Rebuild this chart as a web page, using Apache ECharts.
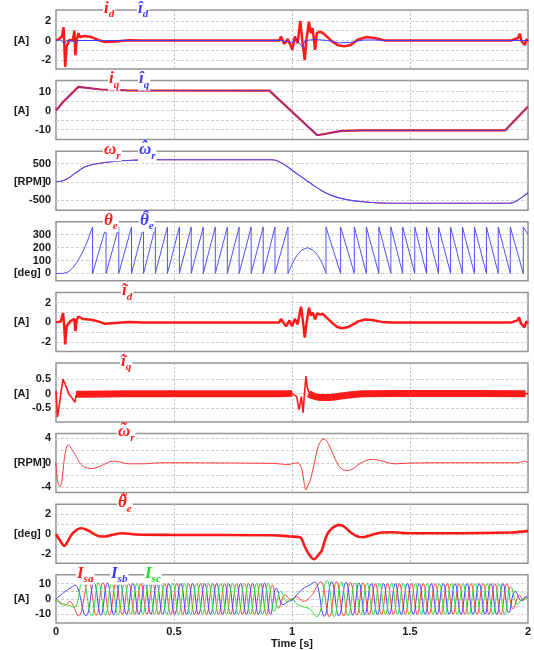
<!DOCTYPE html>
<html>
<head>
<meta charset="UTF-8">
<title>sensorless drive</title>
<script src="https://cdn.jsdelivr.net/npm/echarts@6.0.0/dist/echarts.min.js"></script>
<style>
  html, body { margin: 0; padding: 0; background: #fff; }
  #main { width: 534px; height: 650px; }
</style>
</head>
<body>
<div id="main"></div>
<script>
// ---- data: [time s, value] ----
var timeTicks = [0, 0.5, 1, 1.5, 2];

// i_d (actual, red) and estimated (blue)
var idAct = [[0,0],[0.013,0.15],[0.025,0.4],[0.032,1.35],[0.035,-0.3],[0.039,-2.7],[0.045,-0.6],[0.056,0.05],[0.071,0],[0.078,1.0],[0.082,-1.5],[0.088,0.05],[0.095,0.75],[0.101,0.35],[0.121,0.45],[0.15,0.35],[0.179,0.05],[0.208,-0.15],[0.252,-0.1],[0.309,0.03],[0.367,0],[0.946,0],[0.953,0.4],[0.967,-0.35],[0.982,0.15],[0.996,-0.6],[1.001,-0.95],[1.012,0.4],[1.024,-0.27],[1.035,2.0],[1.044,-0.1],[1.054,-2.0],[1.061,0.07],[1.072,1.9],[1.079,0.75],[1.087,1.25],[1.098,-0.95],[1.105,0.75],[1.119,0.9],[1.131,0.75],[1.148,0.4],[1.17,-0.1],[1.192,-0.45],[1.221,-0.6],[1.249,-0.45],[1.278,0.07],[1.315,0.35],[1.351,0.25],[1.394,0],[1.929,0],[1.958,0.25],[1.965,0.7],[1.973,-0.1],[1.987,-0.45],[1.994,0.15],[2.0,-0.1]];
var idEst = [[0,0],[0.02,0.05],[0.035,-0.35],[0.045,0],[0.075,-0.05],[0.082,-0.3],[0.09,0],[0.95,0],[1.0,-0.2],[1.02,0.1],[1.035,-0.4],[1.045,-0.7],[1.055,0],[1.06,-0.1],[1.1,0.1],[1.15,0],[1.2,-0.25],[1.25,-0.2],[1.3,0.05],[1.35,0.05],[1.4,0],[2.0,0]];

// i_q
var iqAct = [[0,0],[0.03,4.5],[0.095,12.5],[0.19,11.1],[0.3,10.7],[0.904,10.5],[1.107,-13],[1.21,-10.7],[1.3,-10.4],[1.904,-10.4],[2.0,2.1]];
var iqEst = [[0,0],[0.03,4.5],[0.095,12.5],[0.19,11.1],[0.3,10.7],[0.904,10.5],[1.107,-13],[1.21,-10.7],[1.3,-10.4],[1.904,-10.4],[2.0,2.1]];

// rotor speed [RPM]
var wrAct = [[0,0],[0.025,20],[0.05,91],[0.08,230],[0.121,409],[0.16,480],[0.193,518],[0.266,573],[0.339,595],[0.4,605],[0.915,605],[0.93,592],[0.95,535],[0.975,440],[1.0,320],[1.03,180],[1.063,30],[1.1,-140],[1.136,-280],[1.17,-380],[1.208,-455],[1.25,-510],[1.3,-550],[1.353,-575],[1.42,-590],[1.918,-590],[1.94,-562],[1.96,-490],[1.98,-400],[2.0,-300]];
var wrEst = [[0,0],[0.025,20],[0.05,91],[0.08,230],[0.121,409],[0.16,480],[0.193,518],[0.266,573],[0.339,595],[0.4,605],[0.915,605],[0.93,592],[0.95,535],[0.975,440],[1.0,320],[1.03,180],[1.063,30],[1.1,-140],[1.136,-280],[1.17,-380],[1.208,-455],[1.25,-510],[1.3,-550],[1.353,-575],[1.42,-590],[1.918,-590],[1.94,-562],[1.96,-490],[1.98,-400],[2.0,-300]];

// electrical angle [deg]
var thetaStart = [[0,0],[0.03,0],[0.05,10],[0.07,40],[0.09,90],[0.11,155],[0.13,235],[0.155,360]];
var thetaWrapUp = [0.155,0.212,0.266,0.320,0.371,0.421,0.472,0.523,0.573,0.624,0.675,0.726,0.776,0.827,0.878,0.928,0.983];
var thetaArch = [[0.983,0],[1.0,72],[1.02,138],[1.04,180],[1.065,200],[1.09,180],[1.11,138],[1.13,72],[1.144,0]];
var thetaWrapDown = [1.144,1.206,1.264,1.315,1.368,1.419,1.469,1.520,1.570,1.621,1.672,1.722,1.773,1.824,1.874,1.925,1.980];
var thetaEnd = [[2.0,300]];

// estimation errors
var idErr = [[0,0],[0.02,0.1],[0.03,0.95],[0.035,-0.4],[0.039,-2.25],[0.045,-0.4],[0.06,0.1],[0.078,0.35],[0.082,-0.9],[0.088,0.27],[0.095,0.6],[0.114,0.35],[0.15,0.27],[0.179,0.1],[0.208,-0.15],[0.25,-0.07],[0.31,0.03],[0.37,0],[0.946,0],[0.953,0.35],[0.975,-0.4],[0.989,0.2],[1.0,-0.4],[1.012,0.35],[1.024,-0.2],[1.038,1.6],[1.046,0.2],[1.054,-1.55],[1.062,0],[1.072,1.5],[1.08,0.7],[1.088,1.0],[1.098,0.3],[1.106,0.9],[1.12,0.8],[1.13,0.85],[1.15,0.4],[1.17,-0.05],[1.19,-0.45],[1.21,-0.6],[1.235,-0.5],[1.26,-0.2],[1.28,0.1],[1.31,0.3],[1.34,0.25],[1.38,0.05],[1.42,0],[1.93,0],[1.955,0.2],[1.962,0.5],[1.97,-0.1],[1.985,-0.5],[1.993,0.1],[2.0,-0.1]];
var iqErr = [[0,0.1],[0.006,-0.8],[0.012,-0.5],[0.022,0.1],[0.03,0.5],[0.036,0.55],[0.045,0.2],[0.054,0],[0.068,-0.15],[0.08,-0.3],[0.085,-0.05],[0.1,0],[0.95,0],[0.97,-0.03],[0.99,0.03],[1.0,0],[1.02,-0.1],[1.03,-0.55],[1.04,-0.1],[1.047,-0.65],[1.053,0],[1.059,0.6],[1.065,0.2],[1.072,0.05],[1.085,0.05],[1.1,-0.1],[1.12,-0.15],[1.16,-0.15],[1.2,-0.1],[1.25,-0.05],[1.3,0],[2.0,0]];
// centre of the thick ripple band of i_q error, two stretches
var iqBandA = [[0.085,-0.02],[0.3,0],[0.6,0],[0.95,0],[1.0,0.01]];
var iqBandB = [[1.07,0.0],[1.09,-0.08],[1.12,-0.13],[1.16,-0.13],[1.2,-0.09],[1.25,-0.04],[1.3,0],[1.6,0.01],[1.99,0]];
var wrErr = [[0,0],[0.006,-2.8],[0.017,-4],[0.025,-3],[0.035,0.55],[0.046,2.8],[0.054,2.9],[0.067,2.2],[0.081,1.4],[0.1,0],[0.121,-0.7],[0.153,-0.95],[0.194,-0.45],[0.223,0.1],[0.244,0.28],[0.266,0.15],[0.309,-0.17],[0.367,-0.17],[0.44,0],[0.917,-0.1],[0.982,-0.28],[1.003,-0.15],[1.025,0],[1.04,-0.85],[1.047,-2.2],[1.059,-4.45],[1.069,-3.6],[1.076,-3.05],[1.09,-0.85],[1.112,2.8],[1.127,3.8],[1.137,3.9],[1.155,3.05],[1.184,0.55],[1.206,-0.85],[1.235,-1.3],[1.257,-1.0],[1.293,0],[1.336,0.55],[1.365,0.45],[1.409,0],[1.437,-0.17],[1.495,-0.05],[1.64,0],[1.958,0],[1.987,0.28],[2.0,0]];
var thetaErr = [[0,0],[0.02,-0.73],[0.035,-1.17],[0.049,-0.73],[0.071,0.1],[0.107,0.6],[0.136,0.37],[0.179,-0.17],[0.208,-0.23],[0.237,-0.07],[0.281,0.1],[0.338,-0.03],[0.483,-0.07],[0.917,-0.1],[0.989,-0.23],[1.033,-0.3],[1.054,-1.23],[1.069,-1.9],[1.093,-2.5],[1.115,-2.0],[1.127,-1.57],[1.148,-0.07],[1.17,0.6],[1.199,0.93],[1.22,0.77],[1.249,0.17],[1.278,-0.23],[1.3,-0.3],[1.336,-0.07],[1.38,0.17],[1.423,0.2],[1.495,0.1],[1.64,0.1],[1.929,0.17],[2.0,0.33]];

// phase currents, peaks and turning points
var isa = [[0,0],[0.024,-2.9],[0.04,-4],[0.058,-1.5],[0.072,-4],[0.095,-11],[0.138,11],[0.171,-10.5],[0.199,10.5],[0.227,-10.3],[0.254,10.3],[0.281,-10],[0.308,10],[0.334,-10],[0.360,10],[0.385,-10],[0.410,10],[0.435,-10],[0.461,10],[0.486,-10],[0.512,10],[0.537,-10],[0.562,10],[0.587,-10],[0.613,10],[0.638,-10],[0.664,10],[0.689,-10],[0.715,10],[0.740,-10],[0.765,10],[0.790,-10],[0.816,10],[0.841,-10],[0.867,10],[0.892,-10.3],[0.917,9],[0.943,-6],[0.971,2.7],[0.985,0.5],[1.0,-0.5],[1.015,1.5],[1.03,0.5],[1.045,-1.5],[1.06,-1.2],[1.075,1],[1.09,3.5],[1.105,8],[1.122,11.2],[1.158,-11.5],[1.189,11.2],[1.219,-11],[1.248,10.8],[1.275,-10.5],[1.301,10.4],[1.327,-10.2],[1.353,10],[1.379,-10],[1.405,10],[1.430,-10],[1.455,10],[1.480,-10],[1.506,10],[1.531,-10],[1.556,10],[1.581,-10],[1.607,10],[1.632,-10],[1.658,10],[1.683,-10],[1.708,10],[1.733,-10],[1.759,10],[1.784,-10],[1.810,10],[1.835,-10],[1.860,10],[1.885,-10],[1.911,9.7],[1.937,-6.3],[1.965,2.5],[1.98,-1],[1.993,1.2],[2.0,0.5]];
var isb = [[0,0],[0.02,2.5],[0.045,5.5],[0.065,7.5],[0.08,9],[0.127,-11],[0.161,10.5],[0.190,-10.5],[0.218,10.3],[0.245,-10.3],[0.272,10],[0.299,-10],[0.326,10],[0.351,-10],[0.377,10],[0.402,-10],[0.427,10],[0.452,-10],[0.478,10],[0.503,-10],[0.529,10],[0.554,-10],[0.579,10],[0.604,-10],[0.630,10],[0.655,-10],[0.681,10],[0.706,-10],[0.732,10],[0.757,-10],[0.782,10],[0.807,-10],[0.833,10],[0.858,-10],[0.884,10.3],[0.909,-9.9],[0.934,7],[0.962,-3.8],[0.985,-1.5],[1.0,-1],[1.017,2],[1.045,6.5],[1.074,9],[1.096,11],[1.137,-11.3],[1.168,11.2],[1.199,-11],[1.229,10.8],[1.258,-10.6],[1.284,10.4],[1.309,-10.2],[1.336,10],[1.362,-10],[1.388,10],[1.413,-10],[1.438,10],[1.463,-10],[1.489,10],[1.514,-10],[1.539,10],[1.564,-10],[1.590,10],[1.615,-10],[1.641,10],[1.666,-10],[1.691,10],[1.716,-10],[1.742,10],[1.767,-10],[1.793,10],[1.818,-10],[1.843,10],[1.868,-10],[1.894,10],[1.919,-9],[1.946,4.9],[1.974,-1.2],[1.99,1.5],[2.0,0.5]];
var isc = [[0,0],[0.017,-3],[0.04,-3.5],[0.06,-4.5],[0.078,-5.5],[0.113,12],[0.151,-11],[0.180,10.5],[0.209,-10.5],[0.236,10.3],[0.263,-10.3],[0.290,10],[0.317,-10],[0.343,10],[0.368,-10],[0.393,10],[0.418,-10],[0.444,10],[0.469,-10],[0.495,10],[0.520,-10],[0.545,10],[0.570,-10],[0.596,10],[0.621,-10],[0.647,10],[0.672,-10],[0.698,10],[0.723,-10],[0.748,10],[0.773,-10],[0.799,10],[0.824,-10],[0.850,10],[0.875,-10],[0.900,10.1],[0.925,-8.1],[0.952,4.9],[0.980,-1.7],[1.0,0.5],[1.017,-3],[1.045,-5],[1.074,-6.5],[1.105,-11.5],[1.148,12],[1.179,-11.5],[1.209,11],[1.238,-10.8],[1.267,10.5],[1.292,-10.4],[1.318,10.2],[1.345,-10],[1.371,10],[1.396,-10],[1.422,10],[1.447,-10],[1.472,10],[1.497,-10],[1.523,10],[1.548,-10],[1.573,10],[1.598,-10],[1.624,10],[1.649,-10],[1.675,10],[1.700,-10],[1.725,10],[1.750,-10],[1.776,10],[1.801,-10],[1.827,10],[1.852,-10],[1.877,10],[1.902,-10],[1.928,8],[1.956,-3.4],[1.983,0.4],[2.0,-1]];

// tick values per panel
var gridTicks = [[-2,-1,0,1,2],[-10,-5,0,5,10],[-500,0,500],[0,100,200,300],[-2,-1,0,1,2],[-0.5,0,0.5],[-4,-2,0,2,4],[-2,-1,0,1,2],[-10,-5,0,5,10]];
var labelTicks = [[-2,0,2],[-10,0,10],[-500,0,500],[0,100,200,300],[-2,0,2],[-0.5,0,0.5],[-4,0,4],[-2,0,2],[-10,0,10]];
var units = ['[A]','[A]','[RPM]','[deg]','[A]','[A]','[RPM]','[deg]','[A]'];

// ---- build ----
var RED = '#ff1a1a', BLUE = '#3a3aff', GREEN = '#22dd22';

function thetaSeries() {
  var pts = thetaStart.slice();
  for (var i = 0; i < thetaWrapUp.length - 1; i++) {
    pts.push([thetaWrapUp[i], 0], [thetaWrapUp[i + 1], 360]);
  }
  pts = pts.concat(thetaArch);
  for (var j = 0; j < thetaWrapDown.length - 1; j++) {
    pts.push([thetaWrapDown[j], 360], [thetaWrapDown[j + 1], 0]);
  }
  pts.push([thetaWrapDown[thetaWrapDown.length - 1], 360]);
  return pts.concat(thetaEnd);
}

var ranges = [[-2.9,3.1],[-15.3,15.8],[-780,840],[-57,400],[-2.95,3.05],[-0.97,1.05],[-4.9,4.8],[-2.9,3],[-15.7,15.7]];
var TOP = 10, STEP = 70.6, H = 59;

var labelFont = { fontFamily: 'Liberation Sans, Arial, sans-serif', fontWeight: 'bold', fontSize: 11, color: '#1a1a1a' };

var grids = [], xAxes = [], yAxes = [], series = [], titles = [];
for (var p = 0; p < 9; p++) {
  var last = p === 8;
  grids.push({ left: 56, right: 6, top: TOP + STEP * p, height: H, show: true, borderColor: '#959595', borderWidth: 1.5, backgroundColor: '#fff' });
  xAxes.push({
    type: 'value', gridIndex: p, min: 0, max: 2,
    axisLine: { show: false },
    axisTick: { show: false, customValues: [0.5, 1, 1.5] },
    splitLine: { show: true, lineStyle: { color: '#bdbdbd', type: [2, 2], width: 1 } },
    axisLabel: last ? Object.assign({ show: true, margin: 3, customValues: timeTicks }, labelFont) : { show: false },
    name: last ? 'Time [s]' : '',
    nameLocation: 'middle', nameGap: 13,
    nameTextStyle: labelFont
  });
  (function (unit, idx) {
    yAxes.push({
      type: 'value', gridIndex: idx, min: ranges[idx][0], max: ranges[idx][1],
      axisLine: { show: false },
      axisTick: { show: false, customValues: gridTicks[idx] },
      splitLine: { show: true, lineStyle: { color: '#cfcfcf', type: [3, 2], width: 1 } },
      axisLabel: {
        customValues: labelTicks[idx], margin: 5,
        formatter: function (v) { return v === 0 ? '{u|' + unit + '}{n|0}' : '{n|' + v + '}'; },
        rich: {
          u: Object.assign({ width: 31, align: 'left' }, labelFont),
          n: labelFont
        }
      }
    });
  })(units[p], p);
}

function line(idx, data, color, width, extra) {
  return Object.assign({
    type: 'line', xAxisIndex: idx, yAxisIndex: idx, data: data,
    showSymbol: false, symbol: 'none', silent: true,
    lineStyle: { color: color, width: width }
  }, extra || {});
}

series.push(line(0, idAct, RED, 2.5), line(0, idEst, BLUE, 1));
series.push(line(1, iqAct, RED, 2.2), line(1, iqEst, BLUE, 1.2, { lineStyle: { color: BLUE, width: 1.2, opacity: 0.6 } }));
series.push(line(2, wrAct, RED, 1, { smooth: 0.3 }), line(2, wrEst, '#5050ff', 1.1, { smooth: 0.3 }));
series.push(line(3, thetaSeries(), '#5050ff', 1));
series.push(line(4, idErr, RED, 2.5));
series.push(line(5, iqErr, RED, 1.6), line(5, iqBandA, RED, 7, { smooth: 0.3 }), line(5, iqBandB, RED, 7, { smooth: 0.3 }));
series.push(line(6, wrErr, '#ff3a3a', 1, { smooth: 0.3 }));
series.push(line(7, thetaErr, RED, 2.6, { smooth: 0.4 }));
series.push(line(8, isa, '#ff4040', 1, { smooth: 0.45 }), line(8, isb, '#4040ff', 1, { smooth: 0.45 }), line(8, isc, '#30e030', 1, { smooth: 0.45 }));

// legend symbols sitting on the top frame of each panel: panel, left, glyph, subscript, colour, accent
var legendItems = [
  [0, 103, 'i', 'd', RED, ''], [0, 137, 'î', 'd', BLUE, ''],
  [1, 108, 'i', 'q', RED, ''], [1, 138, 'î', 'q', BLUE, ''],
  [2, 103, 'ω', 'r', RED, ''], [2, 138, 'ω', 'r', BLUE, 'ˆ'],
  [3, 103, 'θ', 'e', RED, ''], [3, 139, 'θ', 'e', BLUE, 'ˆ'],
  [4, 121, 'ĩ', 'd', RED, ''], [5, 120, 'ĩ', 'q', RED, ''],
  [6, 117, 'ω', 'r', RED, '˜'], [7, 117, 'θ', 'e', RED, '˜']
  , [8, 76, 'I', 'sa', RED, ''], [8, 110, 'I', 'sb', BLUE, ''], [8, 144, 'I', 'sc', GREEN, '']
];
var serif = 'Liberation Serif, Times New Roman, serif';
legendItems.forEach(function (it) {
  var y0 = TOP + STEP * it[0];
  titles.push({
    left: it[1], top: y0 - 10,
    padding: [0, 1], backgroundColor: '#fff',
    text: '{m|' + it[2] + '}{s|' + it[3] + '}',
    textStyle: {
      rich: {
        m: { fontFamily: serif, fontStyle: 'italic', fontWeight: 'bold', fontSize: 17, lineHeight: 20, color: it[4], verticalAlign: 'top' },
        s: { fontFamily: serif, fontStyle: 'italic', fontWeight: 'bold', fontSize: 11, lineHeight: 11, color: it[4], verticalAlign: 'bottom' }
      }
    }
  });
  if (it[5]) {
    titles.push({
      left: it[1] + 3, top: y0 - 12, padding: 0,
      text: it[5],
      textStyle: { fontFamily: serif, fontStyle: 'italic', fontWeight: 'bold', fontSize: 18, color: it[4] }
    });
  }
});

var chart = echarts.init(document.getElementById('main'), null, { renderer: 'canvas' });
chart.setOption({
  animation: false,
  backgroundColor: '#fff',
  title: titles,
  grid: grids,
  xAxis: xAxes,
  yAxis: yAxes,
  series: series
});
</script>
</body>
</html>
